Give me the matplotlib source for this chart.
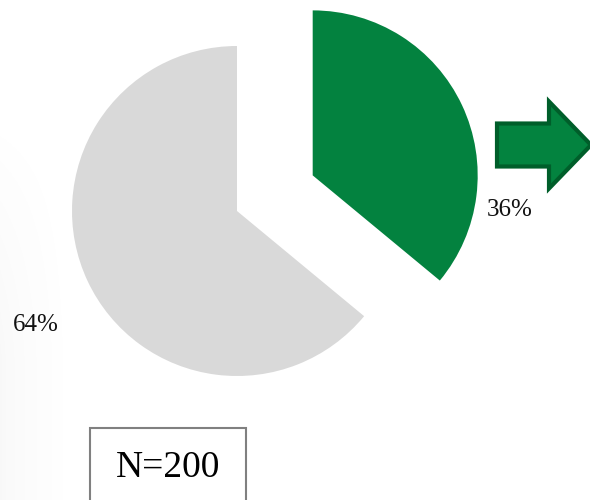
import matplotlib
matplotlib.use("Agg")
import matplotlib.pyplot as plt
import numpy as np
from matplotlib.patches import Rectangle, FancyArrow

# Data
labels = ["Yes", "No"]
values = [36, 64]
colors = ["#03823F", "#D9D9D9"]
explode_frac = [0.507, 0.0]
n_text = "N=200"

W, H = 590, 500
RADIUS = 165
fig = plt.figure(figsize=(W / 100, H / 100), dpi=100)
ax = fig.add_axes([0, 0, 1, 1])

# subtle left-edge shading of the background
grad = np.zeros((100, 100, 4))
xs = np.linspace(0, 1, 100)
ys = np.linspace(0, 1, 100)
X, Y = np.meshgrid(xs, ys)
vert = np.clip((1 - Y) * 1.4, 0, 1)
vert = vert * vert * (3 - 2 * vert)
alpha = (1 - X) ** 2 * vert * 0.045
grad[..., 0:3] = 0.45
grad[..., 3] = alpha
ax.imshow(grad, extent=[0, 90, 0, 420], origin="lower", zorder=0, aspect="auto")

ax.pie(values, colors=colors, explode=[e * RADIUS for e in explode_frac],
       startangle=90, counterclock=False,
       center=(237, H - 211), radius=RADIUS, frame=True,
       wedgeprops=dict(linewidth=0))
ax.set_xlim(0, W)
ax.set_ylim(0, H)
ax.set_aspect("auto")
ax.axis("off")

font = "Liberation Serif"
ax.text(510, H - 210, f"{values[0]}%", ha="center", va="center", fontsize=18,
        family=font, color="#111111")
ax.text(36, H - 325, f"{values[1]}%", ha="center", va="center", fontsize=18,
        family=font, color="#111111")

# block arrow
arr = FancyArrow(497, H - 145, 94, 0, width=43, head_width=87, head_length=42,
                 length_includes_head=True, facecolor="#03833F",
                 edgecolor="#005E2A", linewidth=3, zorder=3)
ax.add_patch(arr)

# N box
ax.add_patch(Rectangle((90, -10), 156, H - 428 + 10, fill=False,
                       edgecolor="#808080", linewidth=1.5, zorder=3))
ax.text(168, H - 477, n_text, ha="center", va="baseline", fontsize=27,
        family=font, color="#000000")

fig.savefig("out.png", dpi=100)
